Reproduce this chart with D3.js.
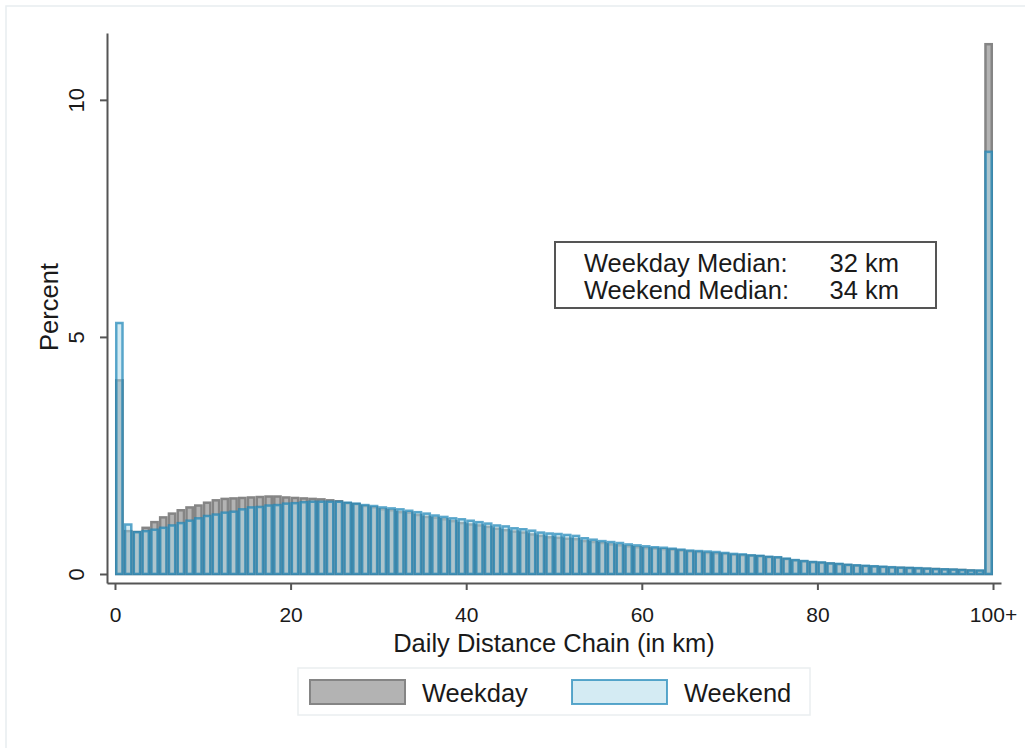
<!DOCTYPE html>
<html>
<head>
<meta charset="utf-8">
<script src="https://cdn.jsdelivr.net/npm/d3@7"></script>
<style>
  body { margin: 0; background: #fff; }
  text { font-family: "Liberation Sans", Arial, sans-serif; fill: #1a1a1a; }
</style>
</head>
<body>
<div id="chart"></div>
<script>
// bins are 1 km wide, the last one (99-100) holds everything 100+
var bins = d3.range(0, 100);

var weekday = [4.11, 0.93, 0.91, 1.00, 1.12, 1.22, 1.30, 1.37, 1.43, 1.47,
  1.53, 1.58, 1.61, 1.62, 1.63, 1.64, 1.65, 1.66, 1.66, 1.64,
  1.63, 1.62, 1.61, 1.60, 1.58, 1.56, 1.52, 1.50, 1.46, 1.43,
  1.39, 1.37, 1.33, 1.32, 1.27, 1.23, 1.21, 1.18, 1.14, 1.10,
  1.07, 1.05, 1.02, 0.98, 0.95, 0.92, 0.90, 0.86, 0.83, 0.80,
  0.79, 0.77, 0.76, 0.72, 0.70, 0.68, 0.65, 0.63, 0.61, 0.59,
  0.57, 0.56, 0.55, 0.54, 0.52, 0.50, 0.49, 0.47, 0.46, 0.45,
  0.43, 0.42, 0.41, 0.40, 0.38, 0.37, 0.34, 0.31, 0.29, 0.27,
  0.26, 0.245, 0.23, 0.215, 0.20, 0.19, 0.18, 0.17, 0.16, 0.155,
  0.15, 0.14, 0.135, 0.13, 0.12, 0.115, 0.11, 0.10, 0.09, 11.2];

var weekend = [5.32, 1.07, 0.91, 0.93, 0.96, 1.00, 1.05, 1.10, 1.15, 1.20,
  1.25, 1.28, 1.32, 1.34, 1.39, 1.43, 1.44, 1.47, 1.48, 1.51,
  1.52, 1.54, 1.55, 1.55, 1.55, 1.55, 1.53, 1.51, 1.48, 1.46,
  1.43, 1.41, 1.39, 1.36, 1.33, 1.30, 1.26, 1.23, 1.20, 1.18,
  1.15, 1.12, 1.09, 1.05, 1.03, 0.99, 0.97, 0.94, 0.90, 0.88,
  0.87, 0.85, 0.83, 0.78, 0.75, 0.72, 0.70, 0.68, 0.65, 0.63,
  0.61, 0.59, 0.58, 0.56, 0.54, 0.52, 0.51, 0.50, 0.49, 0.47,
  0.45, 0.44, 0.42, 0.41, 0.39, 0.38, 0.35, 0.32, 0.30, 0.28,
  0.27, 0.25, 0.24, 0.22, 0.21, 0.20, 0.19, 0.18, 0.17, 0.16,
  0.155, 0.15, 0.14, 0.13, 0.125, 0.12, 0.11, 0.10, 0.10, 8.93];

var xTicks = [0, 20, 40, 60, 80, 100];
var xTickLabels = ["0", "20", "40", "60", "80", "100+"];
var yTicks = [0, 5, 10];
var medianLabels = ["Weekday Median:", "Weekend Median:"];
var medianValues = ["32 km", "34 km"];
var seriesNames = ["Weekday", "Weekend"];

var W = 1025, H = 748;

var svg = d3.select("#chart")
  .append("svg")
    .attr("width", W)
    .attr("height", H);

// faint outer frame of the graph region
svg.append("rect")
  .attr("x", 6).attr("y", 6)
  .attr("width", W + 10).attr("height", H + 10)
  .attr("fill", "none")
  .attr("stroke", "#e8edf0")
  .attr("stroke-width", 1.5);

// scales run a bit past the data so the axis lines overhang like in Stata
var x = d3.scaleLinear().domain([-0.91, 100.91]).range([107, 1001]);
var y = d3.scaleLinear().domain([-0.19, 11.41]).range([583, 33]);

var styles = {
  Weekday: { fill: "#b3b3b3", stroke: "#858585" },
  Weekend: { fill: "rgba(170,215,232,0.5)", stroke: "rgba(30,135,185,0.72)" }
};

var sw = 2.5; // bar outline width

function drawBars(values, st) {
  svg.append("g")
    .selectAll("rect")
    .data(bins)
    .enter()
    .append("rect")
      .attr("x", function(d) { return x(d) + sw / 2; })
      .attr("y", function(d) { return y(values[d]) + sw / 2; })
      .attr("width", function(d) { return x(d + 1) - x(d) - sw; })
      .attr("height", function(d) { return y(0) - y(values[d]) - sw / 2; })
      .attr("fill", st.fill)
      .attr("stroke", st.stroke)
      .attr("stroke-width", sw);
}

drawBars(weekday, styles.Weekday);
drawBars(weekend, styles.Weekend);

// y axis
var yAxis = svg.append("g")
  .attr("transform", "translate(107,0)")
  .call(d3.axisLeft(y).tickValues(yTicks).tickSize(7).tickSizeOuter(0).tickFormat(d3.format("d")));
yAxis.selectAll("text")
  .attr("transform", "rotate(-90)")
  .attr("x", 0)
  .attr("y", -23)
  .attr("dy", 0)
  .style("text-anchor", "middle")
  .style("font-size", "22px");

// x axis
var xAxis = svg.append("g")
  .attr("transform", "translate(0,583)")
  .call(d3.axisBottom(x).tickValues(xTicks).tickSize(7).tickSizeOuter(0)
    .tickFormat(function(d, i) { return xTickLabels[i]; }));
xAxis.selectAll("text")
  .attr("y", 39)
  .attr("dy", 0)
  .style("font-size", "21px");

svg.selectAll(".domain, .tick line")
  .attr("stroke", "#555")
  .attr("stroke-width", 2);
svg.selectAll(".tick text").style("fill", "#1a1a1a").style("font-family", "'Liberation Sans', Arial, sans-serif");

// axis titles
svg.append("text")
  .attr("transform", "translate(58,307) rotate(-90)")
  .attr("text-anchor", "middle")
  .style("font-size", "25.5px")
  .text("Percent");

svg.append("text")
  .attr("x", 554).attr("y", 652)
  .attr("text-anchor", "middle")
  .style("font-size", "25.5px")
  .text("Daily Distance Chain (in km)");

// median box
svg.append("rect")
  .attr("x", 555).attr("y", 242)
  .attr("width", 381).attr("height", 66)
  .attr("fill", "#fff")
  .attr("stroke", "#555")
  .attr("stroke-width", 2);

medianLabels.forEach(function(lab, i) {
  svg.append("text")
    .attr("x", 584).attr("y", 272 + i * 27)
    .style("font-size", "25.5px")
    .text(lab);
  svg.append("text")
    .attr("x", 899).attr("y", 272 + i * 27)
    .attr("text-anchor", "end")
    .style("font-size", "25.5px")
    .text(medianValues[i]);
});

// legend
var legend = svg.append("g");
legend.append("rect")
  .attr("x", 298).attr("y", 668)
  .attr("width", 512).attr("height", 47)
  .attr("fill", "#fff")
  .attr("stroke", "#eaeef0")
  .attr("stroke-width", 1.5);

var legendX = [310, 572];
seriesNames.forEach(function(name, i) {
  var st = styles[name];
  legend.append("rect")
    .attr("x", legendX[i]).attr("y", 680)
    .attr("width", 95).attr("height", 24)
    .attr("fill", st.fill)
    .attr("stroke", st.stroke)
    .attr("stroke-width", 2);
  legend.append("text")
    .attr("x", legendX[i] + 112).attr("y", 702)
    .style("font-size", "25.5px")
    .text(name);
});
</script>
</body>
</html>
